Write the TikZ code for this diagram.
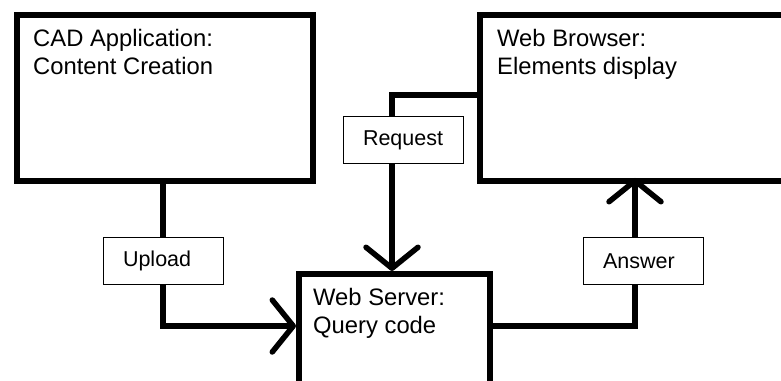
\documentclass[tikz,border=0pt]{standalone}
\usepackage{fontspec}
\setmainfont{Liberation Sans}
\usetikzlibrary{arrows.meta,calc}
\tikzset{
  bigbox/.style={draw, line width=5.5pt, fill=white, inner sep=0pt, anchor=north west},
  boxtext/.style={anchor=north west, inner sep=0pt, align=left, font=\fontsize{23.8}{28}\selectfont},
  tag/.style={draw, line width=1pt, fill=white, minimum width=120pt, minimum height=47pt,
    text width=80pt, inner xsep=20pt, inner ysep=0pt, align=left, font=\fontsize{21.5}{25}\selectfont},
  conn/.style={line width=5.5pt, -{Straight Barb[length=21pt, width=52pt, round]}},
  plain/.style={line width=5.5pt}
}
\begin{document}
\begin{tikzpicture}[x=1pt, y=-1pt]
\useasboundingbox (0,0) rectangle (781,380);
\clip (0,0) rectangle (781,380);
\fill[white] (0,0) rectangle (781,380);

% main boxes
\node[bigbox, minimum width=296pt, minimum height=166pt] (cad) at (14,12) {};
\node[bigbox, minimum width=330pt, minimum height=166pt] (browser) at (477,12) {};
\node[bigbox, minimum width=191pt, minimum height=140pt] (server) at (296,271) {};

\node[boxtext] (cadtxt) at (33,29) {CAD Application:\\Content Creation};
\node[boxtext] (brtxt) at (497,29) {Web Browser:\\Elements display};
\node[boxtext] (svtxt) at (313,288) {Web Server:\\Query code};

% connector end points
\coordinate (upA) at (163,178);
\coordinate (upB) at (296,326);
\coordinate (rqA) at (477,95);
\coordinate (rqB) at (392,271);
\coordinate (anA) at (487,326);
\coordinate (anB) at (635,178);

% connectors
\draw[conn] (upA) |- (upB);
\draw[conn] (rqA) -| (rqB);
\draw[conn] (anA) -| (anB);

% labels
\node[tag] (upload) at (163,261) {Upload};
\node[tag] (request) at (403,140) {Request};
\node[tag] (answer) at (643,261) {Answer};
\end{tikzpicture}
\end{document}
